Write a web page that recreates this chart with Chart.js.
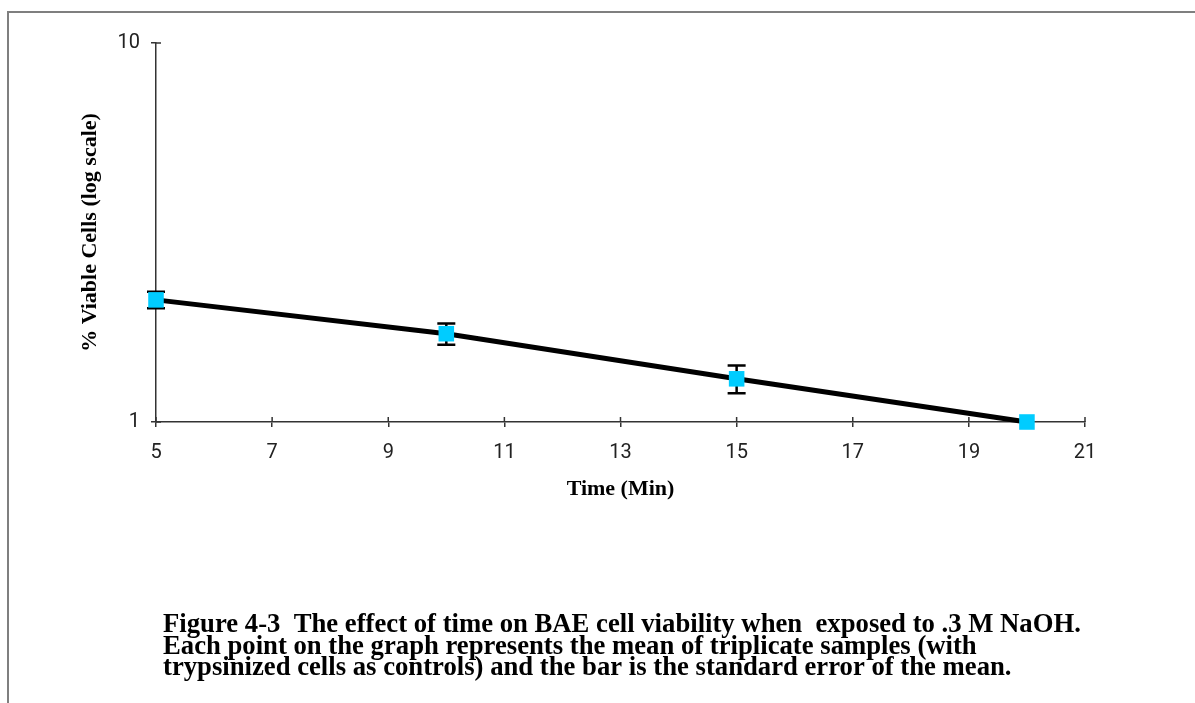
<!DOCTYPE html>
<html>
<head>
<meta charset="utf-8">
<script src="https://cdn.jsdelivr.net/npm/chart.js@4.4.1/dist/chart.umd.min.js"></script>
<style>
  html, body { margin: 0; padding: 0; background: #fff; }
</style>
</head>
<body>
<canvas id="viabilityChart" width="1195" height="703"></canvas>
<script>
// data
const times = [5, 10, 15, 20];
const viable = [2.10, 1.71, 1.30, 1.00];
const stdErr = [0.105, 0.11, 0.11, 0];
const xTicks = [5, 7, 9, 11, 13, 15, 17, 19, 21];
const yTicks = [1, 10];
const captionLines = [
  "Figure 4-3  The effect of time on BAE cell viability when  exposed to .3 M NaOH.",
  "Each point on the graph represents the mean of triplicate samples (with",
  "trypsinized cells as controls) and the bar is the standard error of the mean."
];

const axisColor = "#333";
const serif = "'Liberation Serif', 'Times New Roman', serif";
const tickFont = { family: "Roboto", size: 20 };
const titleFont = { family: serif, size: 22, weight: "bold", lineHeight: 1 };

// frame, error bars, inner tick halves and caption
const extras = {
  id: "extras",
  beforeDraw(chart) {
    const ctx = chart.ctx;
    ctx.save();
    ctx.strokeStyle = "#7f7f7f";
    ctx.lineWidth = 2;
    ctx.beginPath();
    ctx.moveTo(8, 703);
    ctx.lineTo(8, 12);
    ctx.lineTo(1195, 12);
    ctx.stroke();
    ctx.restore();
  },
  beforeDatasetsDraw(chart) {
    const ctx = chart.ctx;
    const xs = chart.scales.x, ys = chart.scales.y;
    ctx.save();
    ctx.strokeStyle = "#000";
    ctx.lineWidth = 2.5;
    times.forEach((t, i) => {
      if (!stdErr[i]) return;
      const x = xs.getPixelForValue(t);
      const yTop = ys.getPixelForValue(viable[i] + stdErr[i]);
      const yBot = ys.getPixelForValue(viable[i] - stdErr[i]);
      ctx.beginPath();
      ctx.moveTo(x, yTop); ctx.lineTo(x, yBot);
      ctx.moveTo(x - 9, yTop); ctx.lineTo(x + 9, yTop);
      ctx.moveTo(x - 9, yBot); ctx.lineTo(x + 9, yBot);
      ctx.stroke();
    });
    ctx.restore();
  },
  afterDraw(chart) {
    const ctx = chart.ctx;
    const xs = chart.scales.x, ys = chart.scales.y;
    const area = chart.chartArea;
    ctx.save();
    ctx.strokeStyle = axisColor;
    ctx.lineWidth = 1.5;
    ctx.beginPath();
    xTicks.forEach(v => {
      const x = xs.getPixelForValue(v);
      ctx.moveTo(x, area.bottom); ctx.lineTo(x, area.bottom - 5);
    });
    yTicks.forEach(v => {
      const y = ys.getPixelForValue(v);
      ctx.moveTo(area.left, y); ctx.lineTo(area.left + 5, y);
    });
    ctx.stroke();

    // caption, sized so the first line runs under the whole plot
    let size = 26;
    ctx.font = `bold ${size}px ${serif}`;
    size = size * 918 / ctx.measureText(captionLines[0]).width;
    ctx.font = `bold ${size.toFixed(2)}px ${serif}`;
    ctx.fillStyle = "#000";
    ctx.textBaseline = "alphabetic";
    captionLines.forEach((line, i) => ctx.fillText(line, 163, 632 + i * 21.5));
    ctx.restore();
  }
};

new Chart(document.getElementById("viabilityChart"), {
  type: "line",
  data: {
    datasets: [{
      data: times.map((t, i) => ({ x: t, y: viable[i] })),
      borderColor: "#000",
      borderWidth: 5,
      tension: 0,
      clip: false,
      pointStyle: "rect",
      pointRadius: 11,
      pointBackgroundColor: "#00ccff",
      pointBorderColor: "#00ccff",
      pointBorderWidth: 0
    }]
  },
  options: {
    responsive: false,
    animation: false,
    layout: { padding: { top: 43, right: 110, bottom: 191, left: 0 } },
    plugins: { legend: { display: false }, tooltip: { enabled: false } },
    scales: {
      x: {
        type: "linear",
        min: 5, max: 21,
        afterBuildTicks: s => { s.ticks = xTicks.map(v => ({ value: v })); },
        afterFit: s => { s.height = 90; },
        border: { color: axisColor, width: 1.5 },
        grid: { drawOnChartArea: false, tickLength: 5, color: axisColor, lineWidth: 1.5 },
        ticks: { font: tickFont, color: "#222", padding: 14, maxRotation: 0 },
        title: { display: true, text: "Time (Min)", font: titleFont, color: "#000", padding: { bottom: 12 } }
      },
      y: {
        type: "logarithmic",
        min: 1, max: 10,
        afterBuildTicks: s => { s.ticks = yTicks.map(v => ({ value: v })); },
        afterFit: s => { s.width = 156; },
        border: { color: axisColor, width: 1.5 },
        grid: { drawOnChartArea: false, tickLength: 5, color: axisColor, lineWidth: 1.5 },
        ticks: { font: tickFont, color: "#222", padding: 11, callback: v => String(v) },
        title: { display: true, text: "% Viable Cells (log scale)", font: titleFont, color: "#000", padding: { top: 79 } }
      }
    }
  },
  plugins: [extras]
});
</script>
</body>
</html>
